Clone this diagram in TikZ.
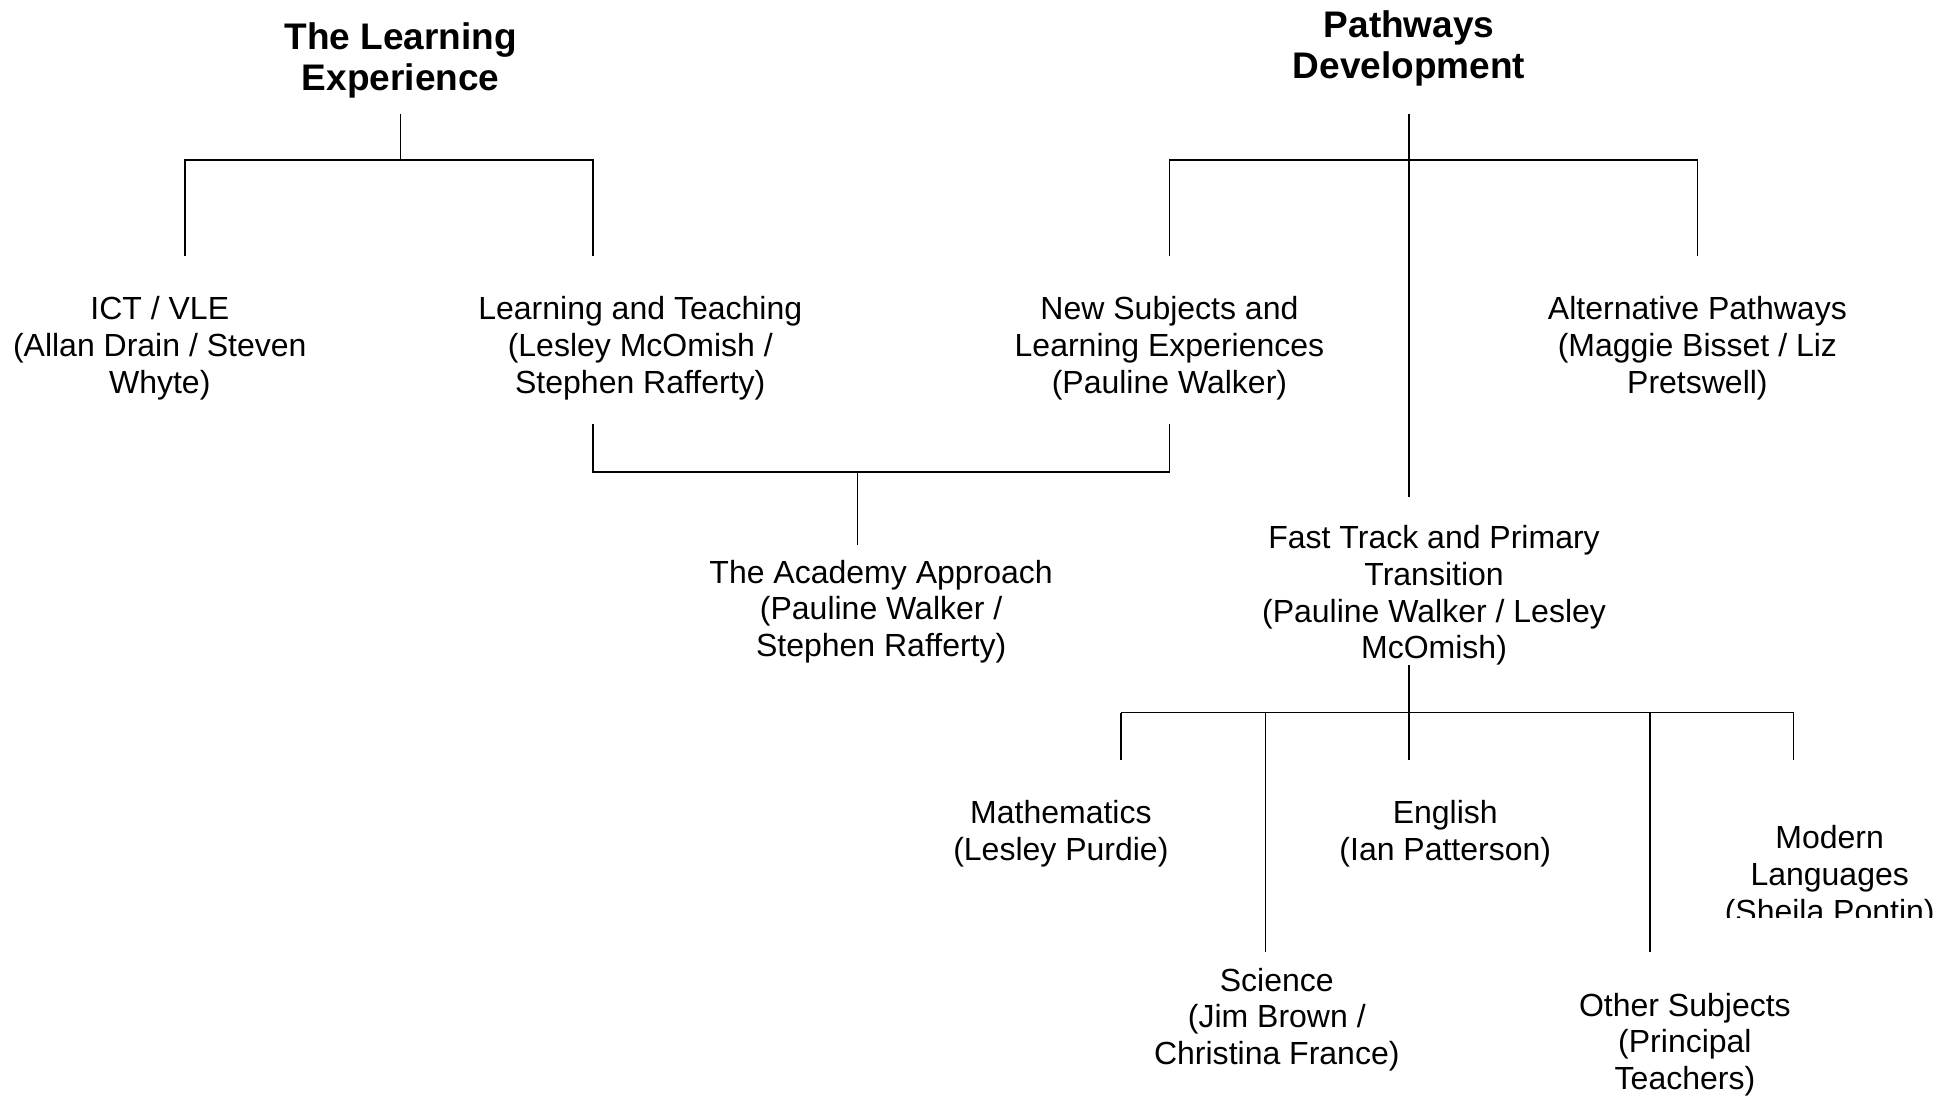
\documentclass[tikz,border=0pt]{standalone}
\usepackage{fontspec}
\setmainfont{Liberation Sans}
\begin{document}
\begin{tikzpicture}[x=0.624pt,y=-0.624pt,
  line width=0.8pt,
  unit/.style={inner sep=0pt,align=center,font=\fontsize{16}{18.4}\selectfont},
  head/.style={inner sep=0pt,align=center,font=\bfseries\fontsize{18.5}{20.6}\selectfont}]
\useasboundingbox (0,0) rectangle (1568,879);

% headings
\node[head] (t1) at (321,48.5) {The Learning\\Experience};
\node[head] (t2) at (1129,38.5) {Pathways\\Development};

% units
\node[unit] (ict)  at (128,279)  {ICT / VLE\\(Allan Drain / Steven\\Whyte)};
\node[unit] (lt)   at (513,279)  {Learning and Teaching\\(Lesley McOmish /\\Stephen Rafferty)};
\node[unit] (ns)   at (937,279)  {New Subjects and\\Learning Experiences\\(Pauline Walker)};
\node[unit] (alt)  at (1360,279) {Alternative Pathways\\(Maggie Bisset / Liz\\Pretswell)};
\node[unit] (aca)  at (706,490)  {The Academy Approach\\(Pauline Walker /\\Stephen Rafferty)};
\node[unit] (ft)   at (1149,477) {Fast Track and Primary\\Transition\\(Pauline Walker / Lesley\\McOmish)};
\node[unit] (math) at (850,668)  {Mathematics\\(Lesley Purdie)};
\node[unit] (eng)  at (1158,668) {English\\(Ian Patterson)};
\node[unit] (sci)  at (1023,817) {Science\\(Jim Brown /\\Christina France)};
\node[unit] (oth)  at (1350,837) {Other Subjects\\(Principal\\Teachers)};
\begin{scope}
  \clip (1300,600) rectangle (1568,735);
  \node[unit] (ml) at (1466,703) {Modern\\Languages\\(Sheila Pontin)};
\end{scope}

% junction points
\coordinate (t1s) at (321,91);   \coordinate (t1b) at (321,128);
\coordinate (ictb) at (148,128); \coordinate (ictt) at (148,205);
\coordinate (ltb) at (475,128);  \coordinate (ltt) at (475,205);
\coordinate (t2s) at (1129,91);  \coordinate (t2b) at (1129,128);
\coordinate (nsb) at (937,128);  \coordinate (nst) at (937,205);
\coordinate (altb) at (1360,128);\coordinate (altt) at (1360,205);
\coordinate (ftt) at (1129,398);
\coordinate (lts) at (475,340);  \coordinate (ltbus) at (475,378);
\coordinate (nss) at (937,340);  \coordinate (nsbus) at (937,378);
\coordinate (acab) at (687,378); \coordinate (acat) at (687,437);
\coordinate (fts) at (1129,533); \coordinate (ftb) at (1129,571);
\coordinate (mathb) at (898,571);  \coordinate (matht) at (898,609);
\coordinate (scib) at (1014,571);  \coordinate (scit) at (1014,763);
\coordinate (engt) at (1129,609);
\coordinate (othb) at (1322,571);  \coordinate (otht) at (1322,763);
\coordinate (mlb) at (1437,571);   \coordinate (mlt) at (1437,609);

% The Learning Experience branch
\draw (t1s) -- (t1b);
\draw (ictt) -- (ictb) -- (ltb) -- (ltt);

% Pathways Development branch
\draw (t2s) -- (ftt);
\draw (nst) -- (nsb) -- (altb) -- (altt);

% joint Academy Approach link
\draw (lts) -- (ltbus) -- (nsbus) -- (nss);
\draw (acab) -- (acat);

% subject leads under Fast Track
\draw (fts) -- (ftb);
\draw (mathb) -- (mlb);
\draw (mathb) -- (matht);
\draw (scib) -- (scit);
\draw (ftb) -- (engt);
\draw (othb) -- (otht);
\draw (mlb) -- (mlt);
\end{tikzpicture}
\end{document}
